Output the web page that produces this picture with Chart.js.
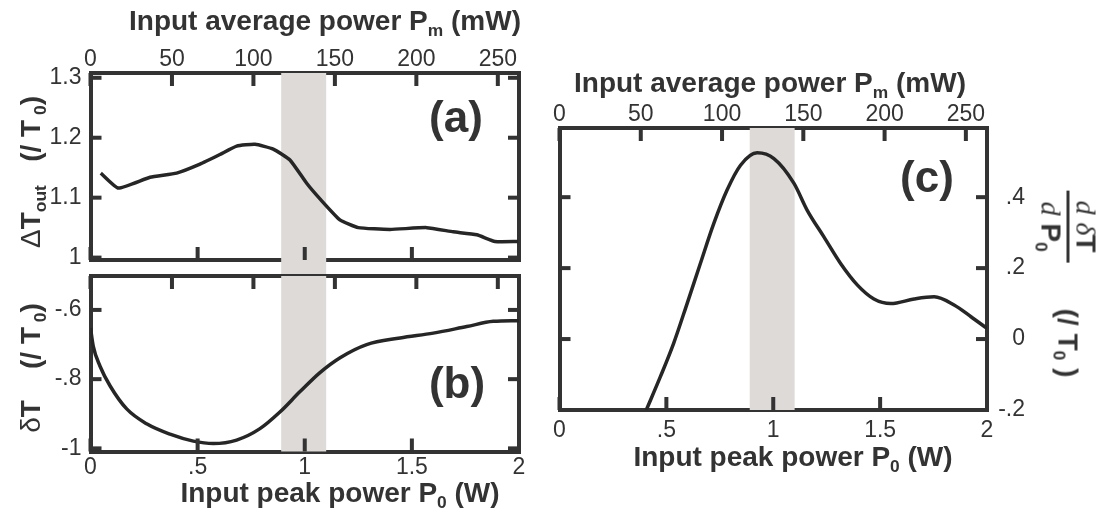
<!DOCTYPE html>
<html><head><meta charset="utf-8">
<script src="https://cdn.jsdelivr.net/npm/chart.js@4.4.1/dist/chart.umd.min.js"></script>
<style>
html,body{margin:0;padding:0;background:#fff;}
#wrap{position:relative;width:1105px;height:516px;overflow:hidden;font-family:"Liberation Sans",Arial,sans-serif;color:#333;}
canvas{position:absolute;left:0;top:0;}
.t{position:absolute;font-weight:bold;font-size:28px;white-space:nowrap;line-height:1;transform:translateX(-50%);}
sub{font-size:0.62em;vertical-align:baseline;position:relative;top:0.32em;}
.lab{position:absolute;font-weight:bold;font-size:44px;line-height:1;transform:translate(-50%,-50%);}
.rotl{position:absolute;font-weight:bold;font-size:28px;white-space:nowrap;line-height:1;transform:translate(-50%,-50%) rotate(-90deg);}
.rotr{position:absolute;font-weight:bold;font-size:28px;white-space:nowrap;line-height:1;display:flex;align-items:center;transform:translate(-50%,-50%) rotate(90deg);}
.g{font-weight:normal;}
.frac{display:inline-flex;flex-direction:column;align-items:center;}
.bar{width:72px;height:3px;background:#333;margin:2px 0;}
.it{font-family:"Liberation Serif",serif;font-style:italic;font-weight:normal;}
</style></head>
<body><div id="wrap">
<canvas id="ca" width="1105" height="516"></canvas>
<canvas id="cb" width="1105" height="516"></canvas>
<canvas id="cc" width="1105" height="516"></canvas>

<div class="t" style="left:325px;top:7px;">Input average power P<sub>m</sub> (mW)</div>
<div class="t" style="left:770px;top:69px;">Input average power P<sub>m</sub> (mW)</div>
<div class="t" style="left:340px;top:479px;">Input peak power P<sub>0</sub> (W)</div>
<div class="t" style="left:793px;top:443px;">Input peak power P<sub>0</sub> (W)</div>

<div class="rotl" style="left:31px;top:172px;"><span class="g">Δ</span>T<sub>out</sub>&nbsp;&nbsp;&nbsp;(/ T<sub>&nbsp;0</sub>)</div>
<div class="rotl" style="left:31px;top:368px;"><span class="g">δ</span>T&nbsp;&nbsp;&nbsp;&nbsp;(/ T<sub>&nbsp;0</sub>)</div>
<div class="rotr" style="left:1068px;top:284px;">
  <span class="frac">
    <span><span class="it">d</span> <span class="it">δ</span>T</span>
    <span class="bar"></span>
    <span><span class="it">d</span> P<sub>0</sub></span>
  </span>
  <span style="display:inline-block;width:46px;"></span>
  <span>(/ T<sub>0</sub> )</span>
</div>

<div class="lab" style="left:456px;top:117px;">(a)</div>
<div class="lab" style="left:457px;top:383px;">(b)</div>
<div class="lab" style="left:927px;top:177px;">(c)</div>
</div>
<script>
// ---------- data ----------
const P0_TICKS = [0, 0.5, 1, 1.5, 2];
const P0_LABELS = ['0', '.5', '1', '1.5', '2'];
const PM_TICKS = [0, 50, 100, 150, 200, 250];
const PM_LABELS = ['0', '50', '100', '150', '200', '250'];
const PM_PER_W = 131.5;          // mW of average power per W of peak power
const BAND_P0 = [0.89, 1.10];    // shaded region (W)

const A_P0 = [0.048, 0.13, 0.278, 0.402, 0.511, 0.604, 0.682, 0.768, 0.853, 0.931, 1.009, 1.071, 1.164, 1.25, 1.398, 1.569, 1.693, 1.803, 1.888, 1.997];
const A_DTOUT = [1.141, 1.116, 1.134, 1.141, 1.156, 1.172, 1.186, 1.189, 1.181, 1.163, 1.124, 1.098, 1.063, 1.050, 1.047, 1.050, 1.043, 1.038, 1.027, 1.027];
const A_TICKS = [1, 1.1, 1.2, 1.3];
const A_LABELS = ['1', '1.1', '1.2', '1.3'];

const B_P0 = [0, 0.013, 0.044, 0.091, 0.169, 0.262, 0.371, 0.48, 0.573, 0.682, 0.791, 0.884, 0.978, 1.071, 1.165, 1.289, 1.445, 1.6, 1.756, 1.88, 2.0];
const B_DT = [-0.652, -0.705, -0.762, -0.819, -0.886, -0.929, -0.959, -0.979, -0.986, -0.976, -0.943, -0.895, -0.836, -0.781, -0.738, -0.700, -0.681, -0.667, -0.648, -0.633, -0.631];
const B_TICKS = [-1, -0.8, -0.6];
const B_LABELS = ['-1', '-.8', '-.6'];

const C_P0 = [0.406, 0.472, 0.534, 0.597, 0.659, 0.722, 0.784, 0.847, 0.925, 1.003, 1.097, 1.159, 1.237, 1.315, 1.394, 1.471, 1.55, 1.659, 1.753, 1.846, 1.925, 2.0];
const C_DERIV = [-0.2, -0.106, -0.012, 0.1, 0.213, 0.326, 0.42, 0.49, 0.525, 0.509, 0.439, 0.363, 0.288, 0.213, 0.152, 0.113, 0.1, 0.113, 0.119, 0.096, 0.063, 0.03];
const C_TICKS = [-0.2, 0, 0.2, 0.4];
const C_LABELS = ['-.2', '0', '.2', '.4'];

// ---------- styling / layout ----------
const W = 1105, H = 516;
const INK = '#333333', LINE = '#262626', BAND = '#dedad8';
const TICK_FONT = {size: 23};
const BOX = {
  a: {l: 90.5, r: 519, t: 73, b: 260, yMin: 0.996, yMax: 1.308, rightAxisW: W - 519, padR: 0},
  b: {l: 90.5, r: 519, t: 276, b: 451.5, yMin: -1.009, yMax: -0.502, rightAxisW: W - 519, padR: 0},
  c: {l: 559.5, r: 987, t: 128, b: 410, yMin: -0.2, yMax: 0.595, rightAxisW: 38, padR: W - 987 - 38}
};
Chart.defaults.font.family = '"Liberation Sans", Arial, sans-serif';

function lookup(vals, labels) {
  return v => { const i = vals.findIndex(t => Math.abs(t - v) < 1e-9); return i < 0 ? '' : labels[i]; };
}
function mkScale(position, size, min, max, vals, labels, show, padding, crossAlign) {
  const horiz = position === 'top' || position === 'bottom';
  return {
    type: 'linear', position, min, max, z: 1,
    afterBuildTicks: s => { s.ticks = vals.map(v => ({value: v})); },
    afterFit: s => { if (horiz) s.height = size; else s.width = size; },
    grid: {display: false, drawOnChartArea: false, drawTicks: false, lineWidth: 4, color: INK},
    border: {display: true, color: INK, width: 4},
    ticks: {display: show, padding: padding, color: INK, autoSkip: false, maxRotation: 0,
      crossAlign: crossAlign || 'near', font: TICK_FONT, callback: lookup(vals, labels)}
  };
}

const bandPlugin = {
  id: 'band',
  beforeDatasetsDraw(chart, args, opts) {
    const x = chart.scales.x, a = chart.chartArea, ctx = chart.ctx;
    const x0 = x.getPixelForValue(opts.range[0]), x1 = x.getPixelForValue(opts.range[1]);
    const bottom = opts.extendTo ? opts.extendTo : a.bottom;
    ctx.save(); ctx.fillStyle = opts.color; ctx.fillRect(x0, a.top, x1 - x0, bottom - a.top); ctx.restore();
  }
};
// inward tick marks, placed with each scale's own value->pixel mapping
const TICK_LEN_X = 13, TICK_LEN_Y = 11, TICK_W = 4;
const inTickPlugin = {
  id: 'inticks',
  afterDraw(chart) {
    const ctx = chart.ctx, a = chart.chartArea;
    ctx.save();
    ctx.fillStyle = INK;
    ['x', 'x2', 'y', 'y2'].forEach(id => {
      const s = chart.scales[id];
      if (!s) return;
      const horiz = (id === 'x' || id === 'x2');
      s.ticks.forEach(t => {
        const p = s.getPixelForValue(t.value);
        if (horiz) {
          if (id === 'x2') ctx.fillRect(p - TICK_W / 2, a.top, TICK_W, TICK_LEN_X);
          else ctx.fillRect(p - TICK_W / 2, a.bottom - TICK_LEN_X, TICK_W, TICK_LEN_X);
        } else {
          if (id === 'y') ctx.fillRect(a.left, p - TICK_W / 2, TICK_LEN_Y, TICK_W);
          else ctx.fillRect(a.right - TICK_LEN_Y, p - TICK_W / 2, TICK_LEN_Y, TICK_W);
        }
      });
    });
    ctx.restore();
  }
};

function makeChart(id, box, xs, ys, curve, cfg) {
  const data = xs.map((x, i) => ({x, y: ys[i]}));
  return new Chart(document.getElementById(id), {
    type: 'line',
    data: {datasets: [Object.assign({data, borderColor: LINE, borderWidth: 3.5, pointRadius: 0, fill: false,
      xAxisID: 'x', yAxisID: cfg.dataAxis}, curve)]},
    options: {
      responsive: false, animation: false, events: [],
      layout: {padding: {left: 0, top: 0, bottom: 0, right: box.padR}},
      plugins: {legend: {display: false}, tooltip: {enabled: false},
        band: {range: BAND_P0, color: BAND, extendTo: cfg.extendTo || 0}},
      scales: {
        x: mkScale('bottom', H - box.b, 0, 2, P0_TICKS, P0_LABELS, cfg.bottomLabels, cfg.bottomPad),
        x2: mkScale('top', box.t, 0, 2 * PM_PER_W, PM_TICKS, PM_LABELS, cfg.topLabels, 0),
        y: mkScale('left', box.l, box.yMin, box.yMax, cfg.yt, cfg.yl, cfg.leftLabels, 9),
        y2: mkScale('right', box.rightAxisW, box.yMin, box.yMax, cfg.yt, cfg.yl, cfg.rightLabels, 10, 'far')
      }
    },
    plugins: [bandPlugin, inTickPlugin]
  });
}

makeChart('ca', BOX.a, A_P0, A_DTOUT, {tension: 0.15}, {dataAxis: 'y', yt: A_TICKS, yl: A_LABELS,
  bottomLabels: false, bottomPad: 2, topLabels: true, leftLabels: true, rightLabels: false, extendTo: BOX.b.t});
makeChart('cb', BOX.b, B_P0, B_DT, {cubicInterpolationMode: 'monotone'}, {dataAxis: 'y', yt: B_TICKS, yl: B_LABELS,
  bottomLabels: true, bottomPad: 2, topLabels: false, leftLabels: true, rightLabels: false});
makeChart('cc', BOX.c, C_P0, C_DERIV, {cubicInterpolationMode: 'monotone'}, {dataAxis: 'y2', yt: C_TICKS, yl: C_LABELS,
  bottomLabels: true, bottomPad: 7, topLabels: true, leftLabels: false, rightLabels: true});
</script>
</body></html>
